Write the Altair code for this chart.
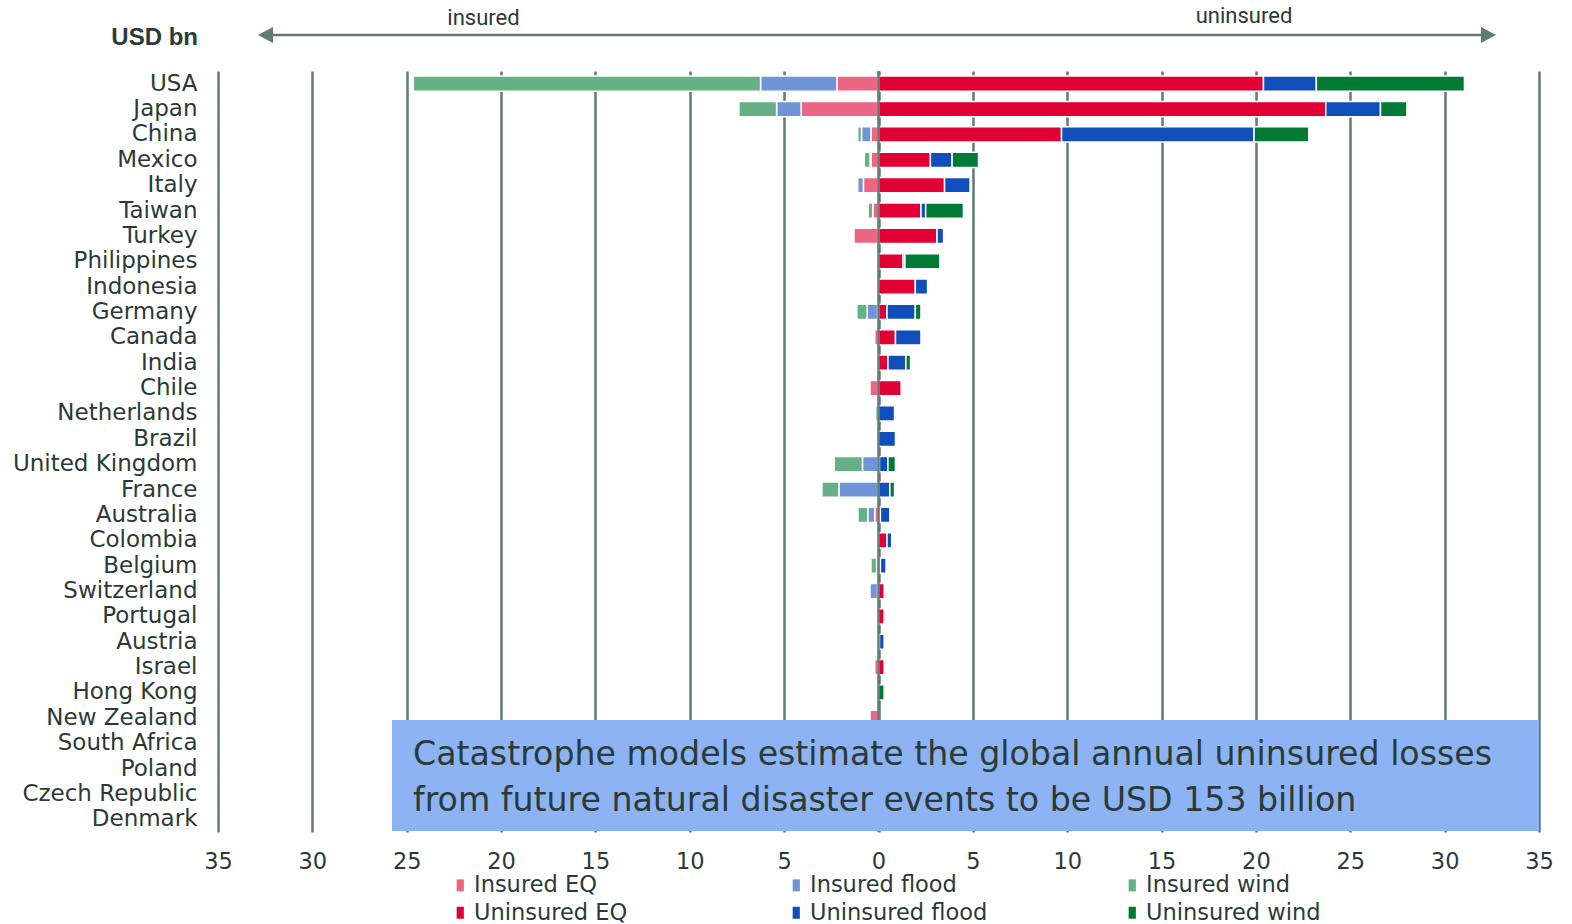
import altair as alt
import pandas as pd

countries = ["USA", "Japan", "China", "Mexico", "Italy", "Taiwan", "Turkey",
             "Philippines", "Indonesia", "Germany", "Canada", "India", "Chile",
             "Netherlands", "Brazil", "United Kingdom", "France", "Australia",
             "Colombia", "Belgium", "Switzerland", "Portugal", "Austria", "Israel",
             "Hong Kong", "New Zealand", "South Africa", "Poland", "Czech Republic",
             "Denmark"]

insured_eq = [2.2, 4.1, 0.4, 0.4, 0.8, 0.3, 1.3, 0, 0, 0.05, 0.2, 0, 0.45, 0, 0,
              0, 0, 0.2, 0, 0, 0.05, 0, 0, 0.2, 0, 0.45, 0.1, 0, 0, 0]
insured_flood = [4.05, 1.3, 0.5, 0.05, 0.3, 0, 0, 0, 0, 0.55, 0, 0, 0, 0, 0,
                 0.85, 2.1, 0.37, 0, 0.1, 0.4, 0, 0, 0, 0, 0, 0, 0.1, 0, 0]
insured_wind = [18.4, 2.0, 0.2, 0.3, 0, 0.25, 0, 0, 0, 0.55, 0, 0, 0, 0.15, 0,
                1.5, 0.9, 0.52, 0, 0.3, 0, 0, 0, 0, 0, 0, 0, 0, 0, 0.1]
uninsured_eq = [20.4, 23.7, 9.7, 2.75, 3.5, 2.25, 3.1, 1.3, 1.95, 0.45, 0.9, 0.5, 1.2,
                0, 0, 0.05, 0, 0.1, 0.45, 0.1, 0.3, 0.3, 0.05, 0.3, 0, 0, 0.3, 0, 0, 0]
uninsured_flood = [2.8, 2.9, 10.2, 1.15, 1.35, 0.25, 0.35, 0.1, 0.65, 1.5, 1.35, 0.95, 0,
                   0.85, 0.9, 0.45, 0.6, 0.5, 0.25, 0.3, 0, 0, 0.25, 0, 0, 0, 0, 0.3, 0.25, 0]
uninsured_wind = [7.85, 1.4, 2.9, 1.4, 0, 2.0, 0, 1.85, 0, 0.3, 0, 0.25, 0,
                  0, 0, 0.4, 0.25, 0, 0, 0, 0, 0, 0, 0, 0.3, 0, 0, 0, 0, 0.2]

series_names = ["Insured EQ", "Insured flood", "Insured wind",
                "Uninsured EQ", "Uninsured flood", "Uninsured wind"]
series_colors = ["#EC6684", "#7094D8", "#66B085", "#E00034", "#0F4EBB", "#007A35"]
series_values = [insured_eq, insured_flood, insured_wind,
                 uninsured_eq, uninsured_flood, uninsured_wind]
x_ticks = list(range(-35, 40, 5))

rows = []
for si, (name, vals) in enumerate(zip(series_names, series_values)):
    sign = -1 if si < 3 else 1
    for c, v in zip(countries, vals):
        if v != 0:
            rows.append({"country": c, "series": name, "value": sign * v, "ord": si % 3})
df = pd.DataFrame(rows)

GRID = "#5F7B73"
TXT = "#2A3B36"
BOX = "#8DB3F4"
FONT = "DejaVu Sans"
W, H = 1321, 761

xscale = alt.Scale(domain=[-35, 35], nice=False, zero=False)
xaxis = alt.Axis(values=x_ticks, labelExpr="abs(datum.value)", grid=True,
                 gridColor=GRID, gridWidth=2.5, gridOpacity=1, domain=False,
                 ticks=False, tickSize=0, labelFontSize=22.5, labelFont=FONT,
                 labelColor=TXT, labelPadding=18, labelFlush=False, title=None)

bars = alt.Chart(df).mark_bar(stroke="white", strokeWidth=1.5).encode(
    x=alt.X("value:Q", stack="zero", scale=xscale, axis=xaxis),
    y=alt.Y("country:N", sort=countries,
            scale=alt.Scale(paddingInner=0.4, paddingOuter=0.2),
            axis=alt.Axis(domain=False, ticks=False, tickSize=0, labelFontSize=23,
                          labelFont=FONT, labelColor=TXT, labelPadding=21,
                          labelLimit=400, title=None)),
    color=alt.Color("series:N",
                    scale=alt.Scale(domain=series_names, range=series_colors),
                    legend=alt.Legend(orient="none", legendX=231, legendY=803,
                                      columns=3, direction="horizontal", title=None,
                                      symbolType="M-0.6,-1H0.6V1H-0.6Z",
                                      symbolSize=144, symbolStrokeWidth=0,
                                      labelFontSize=22.5, labelFont=FONT,
                                      labelColor=TXT, labelOffset=2.5,
                                      columnPadding=133, rowPadding=4.5,
                                      gridAlign="all", padding=0, labelLimit=400)),
    order=alt.Order("ord:Q"),
)

zero_line = alt.Chart(pd.DataFrame({"value": [0]})).mark_rule(
    color=GRID, strokeWidth=2.5).encode(x=alt.X("value:Q", scale=xscale, axis=xaxis))

one = pd.DataFrame({"k": [0]})
box = alt.Chart(one).mark_rect(color=BOX).encode(
    x=alt.value(174), x2=alt.value(1321), y=alt.value(649), y2=alt.value(760))
line1 = alt.Chart(one).mark_text(
    text="Catastrophe models estimate the global annual uninsured losses",
    align="left", baseline="alphabetic", fontSize=33.2, font="DejaVu Sans", color=TXT
).encode(x=alt.value(195), y=alt.value(694))
line2 = alt.Chart(one).mark_text(
    text="from future natural disaster events to be USD 153 billion",
    align="left", baseline="alphabetic", fontSize=33.2, font="DejaVu Sans", color=TXT
).encode(x=alt.value(195), y=alt.value(740))

arrow_line = alt.Chart(one).mark_rule(color=GRID, strokeWidth=2.7).encode(
    x=alt.value(50), x2=alt.value(1268), y=alt.value(-36))
arrow_l = alt.Chart(one).mark_point(shape="M1,-1.07L-1,0L1,1.07Z", size=225,
                                    filled=True, color=GRID, opacity=1,
                                    strokeWidth=0).encode(
    x=alt.value(47.5), y=alt.value(-36))
arrow_r = alt.Chart(one).mark_point(shape="M-1,-1.07L1,0L-1,1.07Z", size=225,
                                    filled=True, color=GRID, opacity=1,
                                    strokeWidth=0).encode(
    x=alt.value(1270.5), y=alt.value(-36))
t_ins = alt.Chart(one).mark_text(text="insured", fontSize=22, font="Roboto",
                                 color=TXT, align="center", baseline="middle").encode(
    x=alt.value(265.5), y=alt.value(-53))
t_unins = alt.Chart(one).mark_text(text="uninsured", fontSize=22, font="Roboto",
                                   color=TXT, align="center", baseline="middle").encode(
    x=alt.value(1026), y=alt.value(-55))
t_unit = alt.Chart(one).mark_text(text="USD bn", fontSize=24, font="Liberation Sans",
                                  fontWeight="bold", color=TXT, align="right",
                                  baseline="middle").encode(
    x=alt.value(-20), y=alt.value(-33))

chart = alt.layer(bars, zero_line, box, line1, line2, arrow_line, arrow_l, arrow_r,
                  t_ins, t_unins, t_unit).properties(
    width=W, height=H,
    autosize=alt.AutoSizeParams(type="none"),
    padding={"left": 218, "top": 71, "right": 33, "bottom": 92},
    background="white",
).configure_view(strokeWidth=0)

chart.save("out.html", embed_options={"renderer": "svg", "actions": False})
